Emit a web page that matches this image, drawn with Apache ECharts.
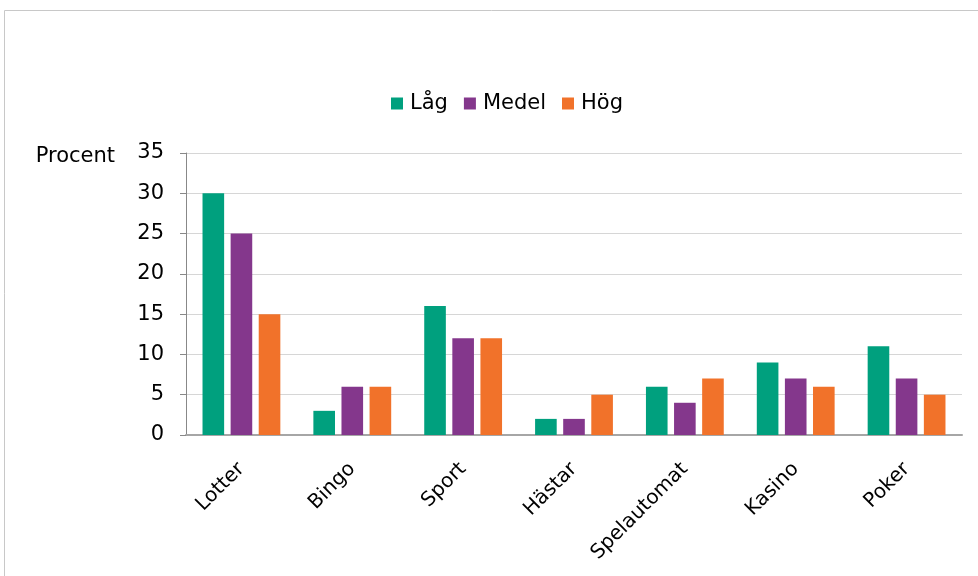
<!DOCTYPE html>
<html>
<head>
<meta charset="utf-8">
<script src="https://cdn.jsdelivr.net/npm/echarts@6/dist/echarts.min.js"></script>
<style>html,body{margin:0;padding:0;background:#fff}#c{width:978px;height:576px}</style>
</head>
<body>
<div id="c"></div>
<script>
const categories = ['Lotter', 'Bingo', 'Sport', 'Hästar', 'Spelautomat', 'Kasino', 'Poker'];
const seriesNames = ['Låg', 'Medel', 'Hög'];
const lagValues = [30, 3, 16, 2, 6, 9, 11];
const medelValues = [25, 6, 12, 2, 4, 7, 7];
const hogValues = [15, 6, 12, 5, 7, 6, 5];
const yAxisName = 'Procent';

const colors = ['#00A07E', '#84378C', '#F1722A'];
const font = 'DejaVu Sans';
const chart = echarts.init(document.getElementById('c'));
const mk = (name, data, i) => ({
  name, type: 'bar', data,
  barWidth: '19.5%', barGap: '30%',
  itemStyle: { color: colors[i] }
});
chart.setOption({
  animation: false,
  textStyle: { fontFamily: font },
  graphic: [{
    type: 'rect', silent: true,
    shape: { x: 4.5, y: 10.5, width: 1200, height: 800 },
    style: { fill: 'none', stroke: '#c8c8c8', lineWidth: 1 }
  }],
  legend: {
    left: 386, top: 88,
    itemWidth: 12, itemHeight: 12, itemGap: 16,
    icon: 'rect',
    textStyle: { fontFamily: font, fontSize: 21, color: '#000', padding: [0, 0, 0, 2] },
    data: seriesNames
  },
  grid: { left: 186, right: 16, top: 153, bottom: 141, containLabel: false },
  xAxis: {
    type: 'category', data: categories,
    axisLine: { lineStyle: { color: '#a6a6a6', width: 2 } },
    axisTick: { show: false },
    axisLabel: { rotate: 45, margin: 31, fontFamily: font, fontSize: 20, color: '#000', interval: 0 }
  },
  yAxis: {
    type: 'value', min: 0, max: 35, interval: 5,
    name: yAxisName, nameLocation: 'end', nameGap: -4,
    nameTextStyle: { fontFamily: font, fontSize: 21, color: '#000', align: 'right', verticalAlign: 'middle', padding: [0, 71, 0, 0] },
    axisLine: { show: true, lineStyle: { color: '#888', width: 1 } },
    axisTick: { show: true, inside: false, length: 6, lineStyle: { color: '#888' } },
    axisLabel: { margin: 22, fontFamily: font, fontSize: 21, color: '#000' },
    splitLine: { lineStyle: { color: '#d6d6d6', width: 1 } }
  },
  series: [mk(seriesNames[0], lagValues, 0), mk(seriesNames[1], medelValues, 1), mk(seriesNames[2], hogValues, 2)]
});
</script>
</body>
</html>
